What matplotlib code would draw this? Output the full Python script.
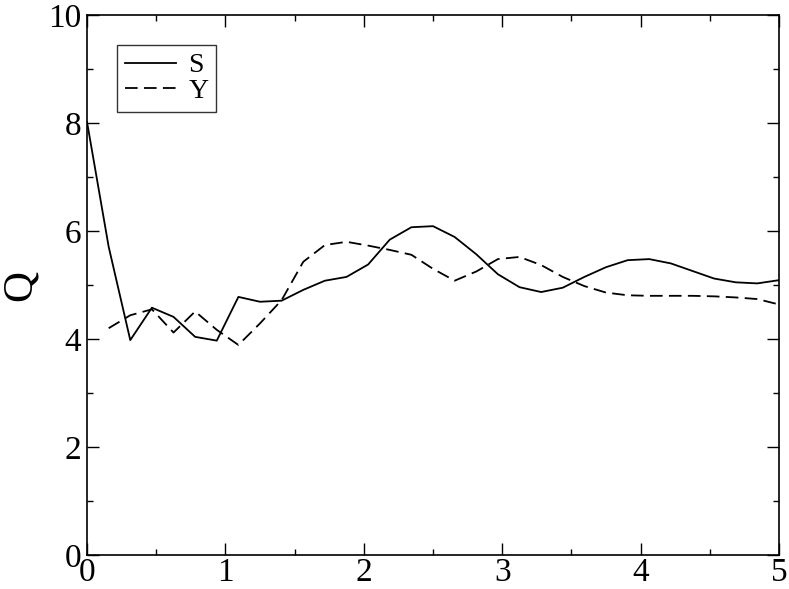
import numpy as np
import matplotlib
matplotlib.use("Agg")
import matplotlib.pyplot as plt
from matplotlib.ticker import MultipleLocator

# x grid: 33 samples from 0 to 5
x = np.linspace(0, 5, 33)

s_vals = [8.02, 5.71, 3.98, 4.58, 4.41, 4.04, 3.97, 4.78, 4.69, 4.71, 4.91,
          5.08, 5.15, 5.38, 5.84, 6.07, 6.09, 5.89, 5.57, 5.20, 4.96, 4.87,
          4.95, 5.15, 5.33, 5.46, 5.48, 5.40, 5.26, 5.12, 5.05, 5.03, 5.09]

# Y has no value at x = 0
y_vals = [4.20, 4.44, 4.55, 4.12, 4.51, 4.17, 3.89, 4.29, 4.72, 5.43,
          5.74, 5.80, 5.73, 5.65, 5.56, 5.30, 5.08, 5.25, 5.48, 5.52, 5.37,
          5.15, 4.98, 4.86, 4.81, 4.80, 4.80, 4.80, 4.79, 4.77, 4.74, 4.64]

plt.rcParams['font.family'] = ['Liberation Serif', 'DejaVu Serif']

fig = plt.figure(figsize=(7.89, 5.89), dpi=100)
ax = fig.add_axes([0.1103, 0.0577, 0.877, 0.9168])

ax.plot(x, s_vals, color='black', lw=1.3, ls='-', label='S')
ax.plot(x[1:], y_vals, color='black', lw=1.3, ls=(0, (7, 3.5)), label='Y')

ax.set_xlim(0, 5)
ax.set_ylim(0, 10)
ax.xaxis.set_major_locator(MultipleLocator(1))
ax.xaxis.set_minor_locator(MultipleLocator(0.5))
ax.yaxis.set_major_locator(MultipleLocator(2))
ax.yaxis.set_minor_locator(MultipleLocator(1))
ax.tick_params(which='both', direction='in', top=True, right=True, width=1)
ax.tick_params(which='major', length=8.5, labelsize=24)
ax.tick_params(axis='x', which='major', pad=2)
ax.tick_params(axis='y', which='major', pad=4)
ax.tick_params(which='minor', length=4.3)
for sp in ax.spines.values():
    sp.set_linewidth(1.2)

ax.set_ylabel('Q', fontsize=31)
ax.yaxis.set_label_coords(-0.068, 0.5)

leg = ax.legend(loc='upper left', bbox_to_anchor=(0.043, 0.944), borderaxespad=0,
                fontsize=20, frameon=True, fancybox=False, handlelength=1.85,
                handletextpad=0.45, labelspacing=0.0, borderpad=0.28)
leg.get_frame().set_edgecolor('black')
leg.get_frame().set_linewidth(1.0)

fig.savefig('out.png', dpi=100)
